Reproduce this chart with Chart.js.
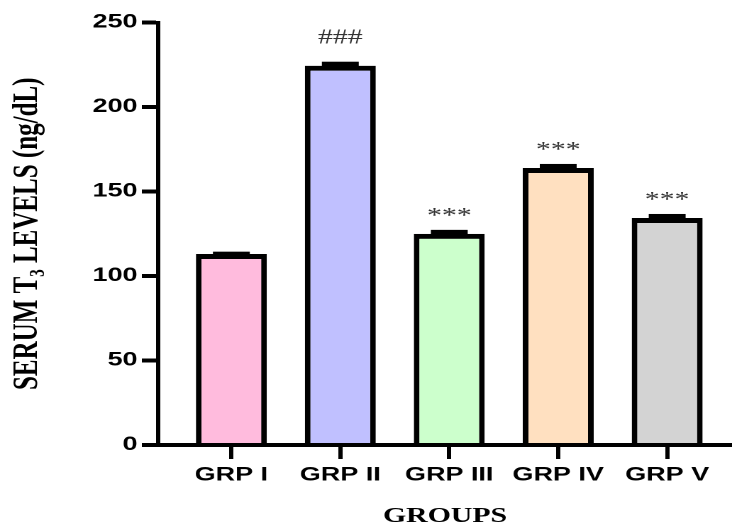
<!DOCTYPE html>
<html><head><meta charset="utf-8">
<script src="https://cdn.jsdelivr.net/npm/chart.js@4.4.1/dist/chart.umd.min.js"></script>
<style>
html,body{margin:0;padding:0;background:#fff;overflow:hidden}
#wrap{width:516px;height:524px;transform:scaleX(1.4186);transform-origin:0 0;}
</style></head><body>
<div id="wrap"><canvas id="c" width="516" height="524"></canvas></div>
<script>
const categories = ['GRP I', 'GRP II', 'GRP III', 'GRP IV', 'GRP V'];
const t3Levels = [113.0, 224.4, 124.9, 163.9, 134.3];
const semErrors = [1.4, 2.4, 2.4, 2.4, 2.4];
const significance = ['', '###', '***', '***', '***'];
const barColors = ['#FFBBDD', '#C0C0FF', '#CCFFCC', '#FFE0C0', '#D3D3D3'];
const yTickValues = [0, 50, 100, 150, 200, 250];
const yTitle = 'SERUM T\u2083 LEVELS (ng/dL)';
const xTitle = 'GROUPS';

const errPlugin = {
  id: 'errCaps',
  afterDatasetsDraw(chart) {
    const ctx = chart.ctx, ys = chart.scales.y, meta = chart.getDatasetMeta(0);
    ctx.save();
    meta.data.forEach((bar, i) => {
      const top = ys.getPixelForValue(t3Levels[i] + semErrors[i]);
      const base = ys.getPixelForValue(t3Levels[i]);
      const w = bar.width * 0.52;
      ctx.fillStyle = '#000';
      ctx.fillRect(bar.x - w / 2, top, w, base - top + 2);
      const mark = significance[i];
      if (mark) {
        ctx.font = '21px "Liberation Serif"';
        ctx.fillStyle = '#333';
        ctx.textAlign = 'center';
        ctx.textBaseline = 'alphabetic';
        const gap = mark.startsWith('*') ? 8 : 18;
        ctx.fillText(mark, bar.x, top - gap);
      }
    });
    ctx.restore();
  }
};

new Chart(document.getElementById('c'), {
  type: 'bar',
  data: {
    datasets: [{
      data: t3Levels.map((v, i) => ({ x: i, y: v })),
      backgroundColor: barColors,
      borderColor: '#000',
      borderWidth: { top: 5, left: 4, right: 4, bottom: 0 },
      borderSkipped: 'start',
      categoryPercentage: 1,
      barPercentage: 0.651
    }]
  },
  options: {
    responsive: false,
    devicePixelRatio: 2,
    animation: false,
    layout: { padding: { top: 22.5, right: 0, bottom: 0, left: 0 } },
    plugins: { legend: { display: false }, tooltip: { enabled: false } },
    scales: {
      x: {
        type: 'linear',
        offset: false,
        min: -0.673,
        max: 4.595,
        afterBuildTicks: (s) => { s.ticks = categories.map((_, i) => ({ value: i })); },
        afterFit: (s) => { s.height = 79; },
        grid: { offset: false, drawOnChartArea: false, drawTicks: true, tickLength: 14, lineWidth: 3, color: '#000' },
        border: { display: true, width: 4, color: '#000' },
        ticks: {
          callback: (v) => categories[v] ?? '',
          color: '#000',
          padding: 5,
          maxRotation: 0,
          autoSkip: false,
          font: { family: '"Liberation Sans", Arial', size: 19, weight: 'bold' }
        },
        title: {
          display: true, text: xTitle, color: '#000',
          padding: { top: 0, bottom: -3 },
          font: { family: '"Liberation Serif", "Times New Roman"', size: 21, weight: 'bold', lineHeight: 1 }
        }
      },
      y: {
        min: 0, max: 250,
        afterBuildTicks: (s) => { s.ticks = yTickValues.map(v => ({ value: v })); },
        afterFit: (s) => { s.width = 111.4; },
        grid: { drawOnChartArea: false, drawTicks: true, tickLength: 11.4, lineWidth: 4, color: '#000' },
        border: { display: true, width: 3, color: '#000' },
        ticks: {
          color: '#000',
          padding: 3,
          font: { family: '"Liberation Sans", Arial', size: 19, weight: 'bold' }
        },
        title: {
          display: true, text: yTitle, color: '#000',
          padding: { top: 7, bottom: 0 },
          font: { family: '"Liberation Serif", "Times New Roman"', size: 25, weight: 'bold', lineHeight: 1 }
        }
      }
    }
  },
  plugins: [errPlugin]
});
</script>
</body></html>
